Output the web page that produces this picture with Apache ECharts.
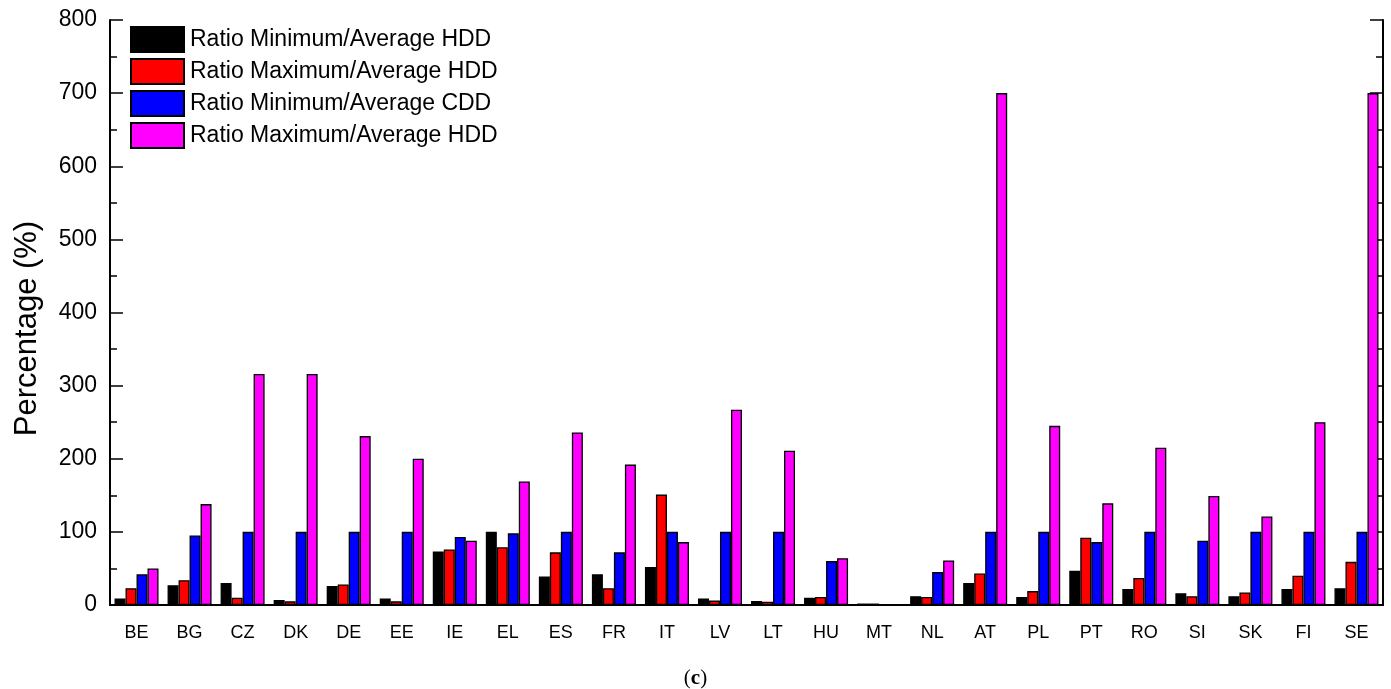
<!DOCTYPE html>
<html>
<head>
<meta charset="utf-8">
<script src="https://cdn.jsdelivr.net/npm/echarts@6/dist/echarts.min.js"></script>
<style>html,body{margin:0;padding:0;background:#fff;}#c{width:1391px;height:689px;}</style>
</head>
<body>
<div id="c"></div>
<script>
const categories = ['BE','BG','CZ','DK','DE','EE','IE','EL','ES','FR','IT','LV','LT','HU','MT','NL','AT','PL','PT','RO','SI','SK','FI','SE'];
const minHDD = [9,27,30,7,26,9,73,100,39,42,52,9,5.5,10,2,12,30,11,47,22,16,12,22,23];
const maxHDD = [23,34,10,5,28,5,76,79,72,23,151,6,4.6,11,2,11,43,19,92,37,12,17,40,59];
const minCDD = [42,95,100,100,100,100,93,98,100,72,100,100,100,60,1,45,100,100,86,100,88,100,100,100];
const maxCDD = [50,138,316,316,231,200,88,169,236,192,86,267,211,64,1,61,700,245,139,215,149,121,250,700];
const seriesNames = ['Ratio Minimum/Average HDD','Ratio Maximum/Average HDD','Ratio Minimum/Average CDD','Ratio Maximum/Average HDD '];
const colors = ['#000000','#ff0000','#0000ff','#ff00ff'];
const yTicks = [0,100,200,300,400,500,600,700,800];

const chart = echarts.init(document.getElementById('c'));
const font = 'Liberation Sans, Arial, sans-serif';
const dataSets = [minHDD, maxHDD, minCDD, maxCDD];
chart.setOption({
  animation: false,
  textStyle: {fontFamily: font, color: '#000'},
  grid: {left: 110, right: 8, top: 20, bottom: 84},
  legend: {
    orient: 'vertical', left: 125, top: 21, itemWidth: 53, itemHeight: 25, itemGap: 5,
    icon: 'rect',
    textStyle: {fontSize: 23, fontFamily: font, color: '#000', padding: [0,0,0,1]},
    data: seriesNames
  },
  xAxis: [{
    type: 'category', data: categories, position: 'bottom',
    axisLine: {lineStyle: {color: '#000', width: 2}},
    axisTick: {alignWithLabel: true, length: 11, lineStyle: {color: '#000', width: 1.5}},
    axisLabel: {fontSize: 18, color: '#000', margin: 19, fontFamily: font}
  },{
    type: 'category', data: categories, position: 'top',
    axisLine: {lineStyle: {color: '#000', width: 2}},
    axisTick: {show: false},
    axisLabel: {show: false}
  }],
  yAxis: [{
    type: 'value', min: 0, max: 800, interval: 100, position: 'left',
    name: 'Percentage (%)', nameLocation: 'middle', nameGap: 67,
    nameTextStyle: {fontSize: 31, color: '#000', fontFamily: font, padding: [0, 32, 0, 0]},
    axisLine: {show: true, lineStyle: {color: '#000', width: 2}},
    axisTick: {show: true, inside: true, length: 13, lineStyle: {color: '#000', width: 1.5}},
    minorTick: {show: true, splitNumber: 2, length: 7, lineStyle: {color: '#000', width: 1.5}},
    splitLine: {show: false},
    axisLabel: {fontSize: 23, color: '#000', margin: 13, fontFamily: font,
      formatter: v => yTicks.includes(v) ? String(v) : ''}
  },{
    type: 'value', min: 0, max: 800, interval: 100, position: 'right',
    axisLine: {show: true, lineStyle: {color: '#000', width: 2}},
    axisTick: {show: true, inside: true, length: 13, lineStyle: {color: '#000', width: 1.5}},
    minorTick: {show: true, splitNumber: 2, length: 7, lineStyle: {color: '#000', width: 1.5}},
    splitLine: {show: false},
    axisLabel: {show: false}
  }],
  series: seriesNames.map((n, i) => ({
    name: n, type: 'bar', data: dataSets[i], barWidth: 11, barGap: '0%',
    itemStyle: {color: colors[i], borderColor: '#000', borderWidth: 1.3}
  })),
  graphic: [{
    type: 'text', left: 'center', top: 668,
    style: {
      text: '({c|c})', fontFamily: 'Liberation Serif, Times New Roman, serif', fontSize: 21, fill: '#000',
      rich: {c: {fontWeight: 'bold', fontFamily: 'Liberation Serif, Times New Roman, serif', fontSize: 21}}
    }
  }]
});
</script>
</body>
</html>
